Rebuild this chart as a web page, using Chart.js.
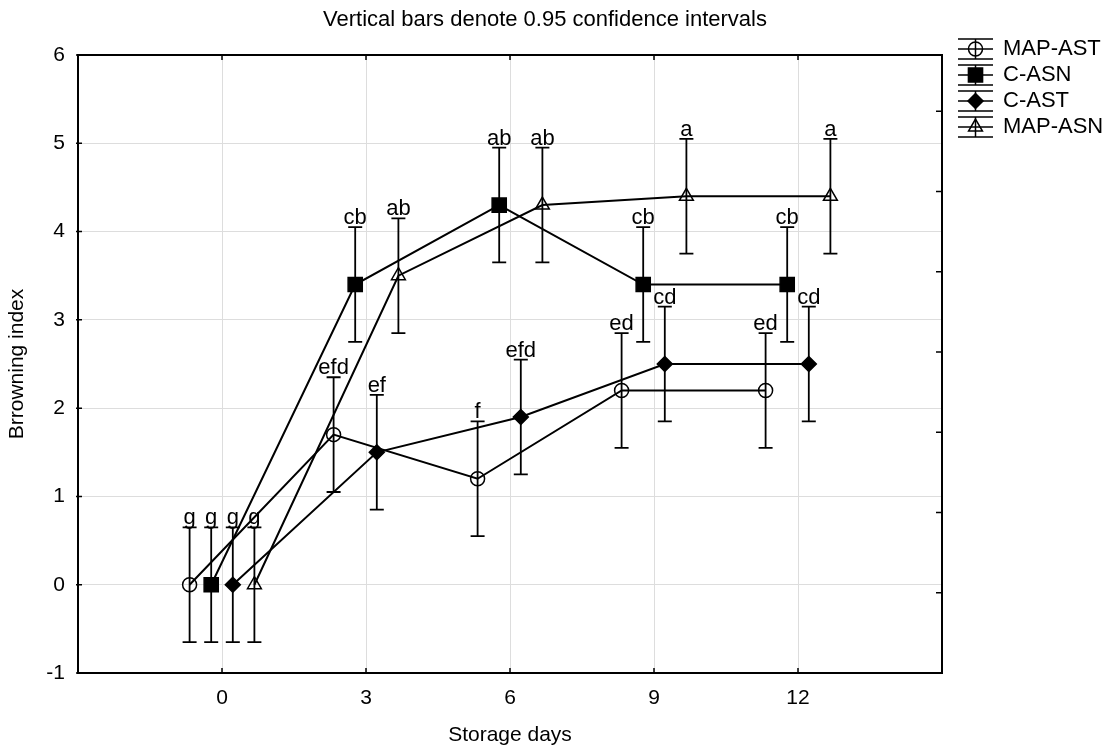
<!DOCTYPE html>
<html>
<head>
<meta charset="utf-8">
<script src="https://cdn.jsdelivr.net/npm/chart.js@4.4.1/dist/chart.umd.min.js"></script>
<style>
    html, body { margin: 0; padding: 0; background: #fff; }
    #wrap { width: 1111px; height: 751px; }
</style>
</head>
<body>
<div id="wrap"><canvas id="chart"></canvas></div>
<script>
// Storage days and axis ticks
const days = [0, 3, 6, 9, 12];
const yTicks = [-1, 0, 1, 2, 3, 4, 5, 6];

// Browning index means
const mapAst = [0, 1.7, 1.2, 2.2, 2.2];
const cAsn = [0, 3.4, 4.3, 3.4, 3.4];
const cAst = [0, 1.5, 1.9, 2.5, 2.5];
const mapAsn = [0, 3.5, 4.3, 4.4, 4.4];

// Half width of the 0.95 confidence intervals
const mapAstCi = [0.65, 0.65, 0.65, 0.65, 0.65];
const cAsnCi = [0.65, 0.65, 0.65, 0.65, 0.65];
const cAstCi = [0.65, 0.65, 0.65, 0.65, 0.65];
const mapAsnCi = [0.65, 0.65, 0.65, 0.65, 0.65];

// Significance letters
const mapAstLetters = ['g', 'efd', 'f', 'ed', 'ed'];
const cAsnLetters = ['g', 'cb', 'ab', 'cb', 'cb'];
const cAstLetters = ['g', 'ef', 'efd', 'cd', 'cd'];
const mapAsnLetters = ['g', 'ab', 'ab', 'a', 'a'];

const FONT = '"Liberation Sans", Arial, sans-serif';

// each series is shifted a bit sideways around the day
function makeSeries(label, values, ci, letters, shift, style, radius, fill) {
    return {
        label: label,
        data: values.map((v, i) => ({ x: days[i] + shift, y: v })),
        ci: ci,
        letters: letters,
        showLine: true,
        borderColor: '#000',
        borderWidth: 2,
        pointStyle: style,
        pointRadius: radius,
        pointHoverRadius: radius,
        pointBorderColor: '#000',
        pointBorderWidth: 1.5,
        pointBackgroundColor: fill
    };
}

const datasets = [
    makeSeries('MAP-AST', mapAst, mapAstCi, mapAstLetters, -0.675, 'circle', 7, 'rgba(0,0,0,0)'),
    makeSeries('C-ASN', cAsn, cAsnCi, cAsnLetters, -0.225, 'rect', 10, '#000'),
    makeSeries('C-AST', cAst, cAstCi, cAstLetters, 0.225, 'rectRot', 7.5, '#000'),
    makeSeries('MAP-ASN', mapAsn, mapAsnCi, mapAsnLetters, 0.675, 'triangle', 8, 'rgba(0,0,0,0)')
];

// error bars, letters, frame and legend
const decorations = {
    id: 'decorations',
    afterDatasetsDraw(chart) {
        const ctx = chart.ctx;
        const xs = chart.scales.x, ys = chart.scales.y, ys2 = chart.scales.y2;
        const area = chart.chartArea;
        ctx.save();
        ctx.strokeStyle = '#000';
        ctx.lineWidth = 1.8;

        chart.data.datasets.forEach(ds => {
            ds.data.forEach((p, i) => {
                const px = xs.getPixelForValue(p.x);
                const top = ys.getPixelForValue(p.y + ds.ci[i]);
                const bot = ys.getPixelForValue(p.y - ds.ci[i]);
                ctx.beginPath();
                ctx.moveTo(px, top); ctx.lineTo(px, bot);
                ctx.moveTo(px - 7, top); ctx.lineTo(px + 7, top);
                ctx.moveTo(px - 7, bot); ctx.lineTo(px + 7, bot);
                ctx.stroke();
                ctx.fillStyle = '#000';
                ctx.font = '22px ' + FONT;
                ctx.textAlign = 'center';
                ctx.textBaseline = 'alphabetic';
                ctx.fillText(ds.letters[i], px, top - 3);
            });
        });

        // frame with inner ticks
        ctx.lineWidth = 2;
        ctx.strokeRect(area.left, area.top, area.right - area.left, area.bottom - area.top);
        ctx.lineWidth = 1.5;
        ctx.beginPath();
        days.forEach(d => {
            const px = xs.getPixelForValue(d);
            ctx.moveTo(px, area.top); ctx.lineTo(px, area.top + 5);
            ctx.moveTo(px, area.bottom); ctx.lineTo(px, area.bottom - 5);
        });
        yTicks.forEach(v => {
            const py = ys.getPixelForValue(v);
            ctx.moveTo(area.left - 2, py); ctx.lineTo(area.left + 4, py);
        });
        for (let v = 1; v <= 7; v++) {
            const py = ys2.getPixelForValue(v);
            ctx.moveTo(area.right, py); ctx.lineTo(area.right - 6, py);
        }
        ctx.stroke();

        // chart title
        ctx.fillStyle = '#000';
        ctx.font = '22px ' + FONT;
        ctx.textAlign = 'center';
        ctx.textBaseline = 'middle';
        ctx.fillText('Vertical bars denote 0.95 confidence intervals', 545, 20);

        // legend on the right
        const lx = 958, lw = 35, rowH = 26;
        chart.data.datasets.forEach((ds, i) => {
            const cy = 49 + i * rowH;
            ctx.lineWidth = 1.5;
            ctx.beginPath();
            ctx.moveTo(lx, cy); ctx.lineTo(lx + lw, cy);
            ctx.moveTo(lx, cy - 10); ctx.lineTo(lx + lw, cy - 10);
            ctx.moveTo(lx, cy + 10); ctx.lineTo(lx + lw, cy + 10);
            ctx.moveTo(lx + lw / 2, cy - 10); ctx.lineTo(lx + lw / 2, cy + 10);
            ctx.stroke();
            ctx.fillStyle = ds.pointBackgroundColor;
            Chart.helpers.drawPoint(ctx, {
                pointStyle: ds.pointStyle,
                radius: ds.pointRadius,
                borderWidth: 1.5
            }, lx + lw / 2, cy);
            ctx.fillStyle = '#000';
            ctx.font = '22px ' + FONT;
            ctx.textAlign = 'left';
            ctx.textBaseline = 'middle';
            ctx.fillText(ds.label, lx + lw + 10, cy);
        });
        ctx.restore();
    }
};

new Chart(document.getElementById('chart'), {
    type: 'scatter',
    data: { datasets: datasets },
    plugins: [decorations],
    options: {
        responsive: true,
        maintainAspectRatio: false,
        animation: false,
        layout: { padding: { top: 55, right: 169, left: 0, bottom: 0 } },
        plugins: {
            legend: { display: false },
            tooltip: { enabled: false }
        },
        scales: {
            x: {
                type: 'linear',
                min: -3,
                max: 15,
                afterBuildTicks: s => { s.ticks = days.map(d => ({ value: d })); },
                afterFit: s => { s.height = 78; },
                grid: { color: '#dddddd', lineWidth: 1, drawTicks: false },
                border: { display: false },
                ticks: { color: '#000', font: { family: FONT, size: 21 }, padding: 13 },
                title: {
                    display: true,
                    text: 'Storage days',
                    color: '#000',
                    font: { family: FONT, size: 21 },
                    padding: { top: 0, bottom: 3 }
                }
            },
            y: {
                min: -1,
                max: 6,
                afterBuildTicks: s => { s.ticks = yTicks.map(v => ({ value: v })); },
                afterFit: s => { s.width = 78; },
                grid: { color: '#dddddd', lineWidth: 1, drawTicks: false },
                border: { display: false },
                ticks: { color: '#000', font: { family: FONT, size: 21 }, padding: 13 },
                title: {
                    display: true,
                    text: 'Brrowning index',
                    color: '#000',
                    font: { family: FONT, size: 21 },
                    padding: { top: 5, bottom: 0 }
                }
            },
            y2: {
                display: false,
                position: 'right',
                min: 0,
                max: 7.7
            }
        }
    }
});
</script>
</body>
</html>
